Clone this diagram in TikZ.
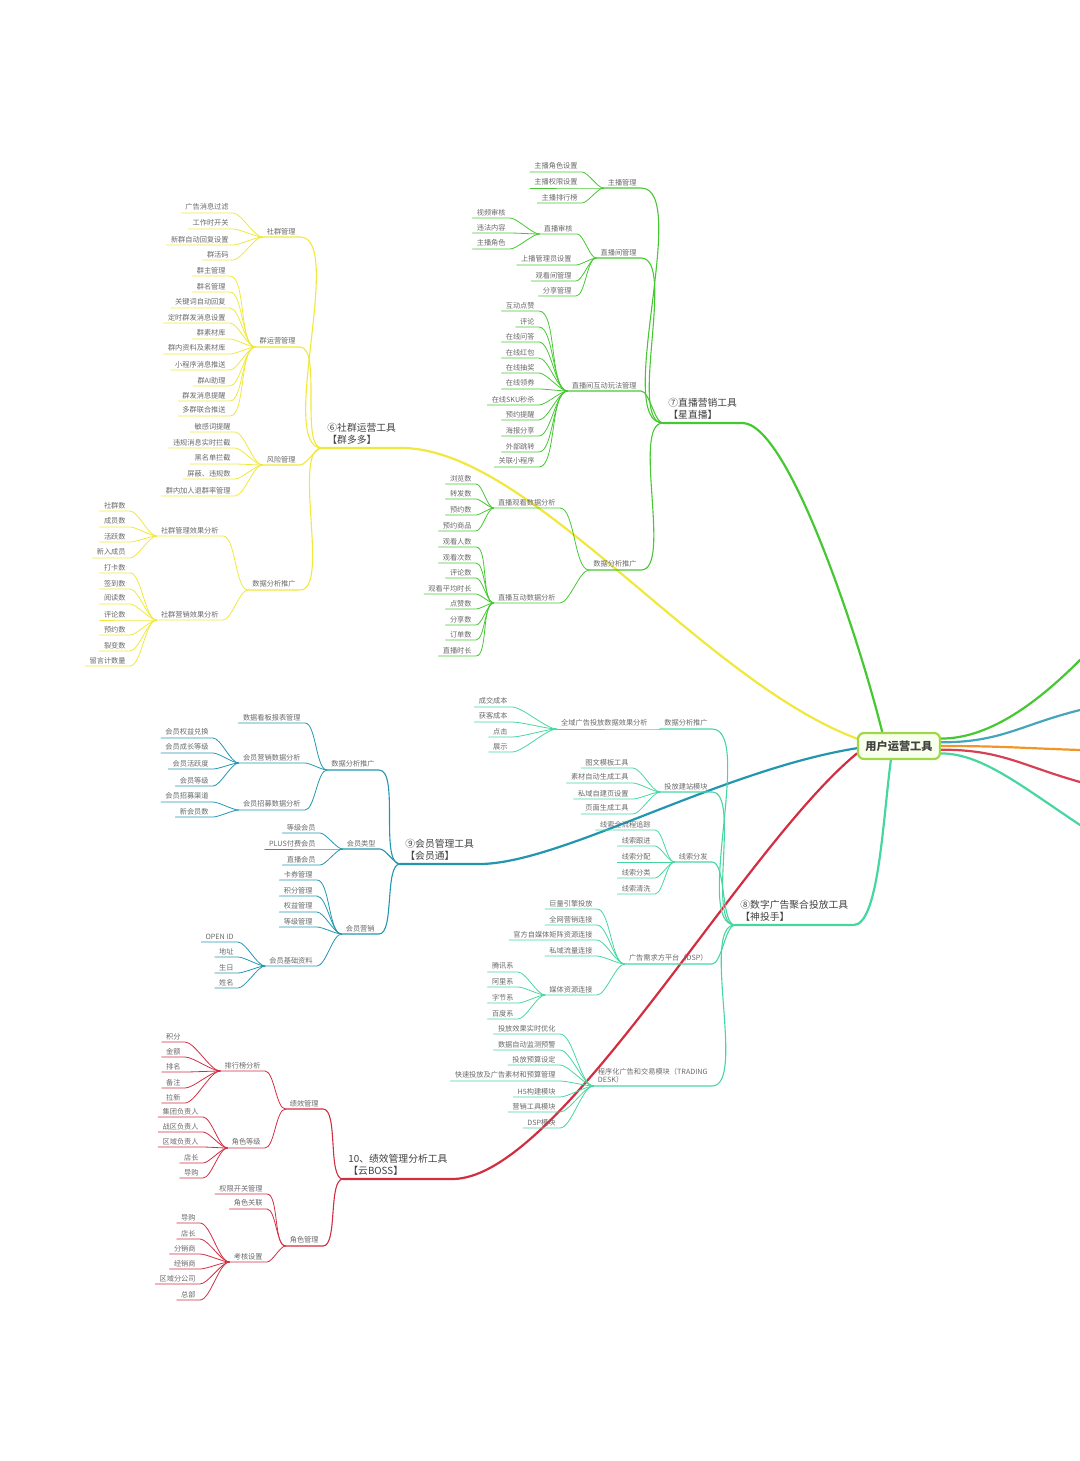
\documentclass[tikz,border=0pt]{standalone}
\usepackage{fontspec}
\setmainfont{Noto Sans CJK SC}
\usetikzlibrary{backgrounds}
\definecolor{rootline}{RGB}{160,215,70}
\definecolor{rootfill}{RGB}{248,255,236}
\definecolor{qunyellow}{RGB}{240,232,60}
\definecolor{zbgreen}{RGB}{70,200,50}
\definecolor{hyteal}{RGB}{35,150,175}
\definecolor{ggmint}{RGB}{70,215,160}
\definecolor{jxred}{RGB}{210,45,65}
\definecolor{sideorange}{RGB}{240,150,40}
\definecolor{inkdark}{RGB}{65,65,65}
\definecolor{inkgray}{RGB}{105,105,105}

\begin{document}
\begin{tikzpicture}[x=0.5pt, y=-0.5pt,
    rootbox/.style={rectangle, draw=rootline, line width=1.1pt, rounded corners=3pt,
                    fill=rootfill, text=inkdark, font=\fontsize{5.6}{6}\selectfont\bfseries,
                    minimum width=41pt, minimum height=13pt, inner sep=2pt},
    branchtitle/.style={anchor=south west, align=left, inner xsep=2.5pt, inner ysep=1.5pt,
                    text=inkdark, font=\fontsize{4.9}{6.2}\selectfont},
    leaf/.style={anchor=south east, inner xsep=2pt, inner ysep=1pt,
                 text=inkgray, font=\fontsize{3.6}{4.4}\selectfont},
    trunk/.style={line width=1.1pt, line cap=round},
    twig/.style={line width=0.55pt, line cap=round},
    sprig/.style={line width=0.4pt, line cap=round},
    fan/.style={out=180, in=0, looseness=0.55}
]
    \useasboundingbox (0,0) rectangle (1080,1461);

    % root
    \node[rootbox] (root) at (899,746) {用户运营工具};
    \coordinate (e1) at (1080,660);
    \coordinate (e2) at (1080,710);
    \coordinate (e3) at (1080,750);
    \coordinate (e4) at (1080,782);
    \coordinate (e5) at (1080,825);

    % 7 live streaming
    \node[branchtitle] (b7) at (663,423) {⑦直播营销工具\\【星直播】};
    \node[leaf] (z1) at (641,188) {主播管理};
    \node[leaf] (z2) at (641,258) {直播间管理};
    \node[leaf] (z3) at (641,391) {直播间互动玩法管理};
    \node[leaf] (z4) at (641,570) {数据分析推广};
    \node[leaf] (z11) at (582,172) {主播角色设置};
    \node[leaf] (z12) at (582,188) {主播权限设置};
    \node[leaf] (z13) at (582,203) {主播排行榜};
    \node[leaf] (z21) at (577,234) {直播审核};
    \node[leaf] (z22) at (576,265) {上播管理员设置};
    \node[leaf] (z23) at (576,281) {观看间管理};
    \node[leaf] (z24) at (576,296) {分享管理};
    \node[leaf] (z211) at (510,218) {视频审核};
    \node[leaf] (z212) at (510,233) {违法内容};
    \node[leaf] (z213) at (510,249) {主播角色};
    \node[leaf] (z31) at (539,311) {互动点赞};
    \node[leaf] (z32) at (539,327) {评论};
    \node[leaf] (z33) at (539,342) {在线问答};
    \node[leaf] (z34) at (539,358) {在线红包};
    \node[leaf] (z35) at (539,373) {在线抽奖};
    \node[leaf] (z36) at (539,389) {在线领券};
    \node[leaf] (z37) at (539,405) {在线SKU秒杀};
    \node[leaf] (z38) at (539,420) {预约提醒};
    \node[leaf] (z39) at (539,436) {海报分享};
    \node[leaf] (z310) at (539,452) {外部跳转};
    \node[leaf] (z311) at (539,467) {关联小程序};
    \node[leaf] (z41) at (560,508) {直播观看数据分析};
    \node[leaf] (z42) at (560,603) {直播互动数据分析};
    \node[leaf] (z411) at (476,484) {浏览数};
    \node[leaf] (z412) at (476,499) {转发数};
    \node[leaf] (z413) at (476,515) {预约数};
    \node[leaf] (z414) at (476,531) {预约商品};
    \node[leaf] (z421) at (476,547) {观看人数};
    \node[leaf] (z422) at (476,563) {观看次数};
    \node[leaf] (z423) at (476,578) {评论数};
    \node[leaf] (z424) at (476,594) {观看平均时长};
    \node[leaf] (z425) at (476,609) {点赞数};
    \node[leaf] (z426) at (476,625) {分享数};
    \node[leaf] (z427) at (476,640) {订单数};
    \node[leaf] (z428) at (476,656) {直播时长};

    % 6 community
    \node[branchtitle] (b6) at (322,448) {⑥社群运营工具\\【群多多】};
    \node[leaf] (q1) at (300,237) {社群管理};
    \node[leaf] (q2) at (300,347) {群运营管理};
    \node[leaf] (q3) at (300,465) {风险管理};
    \node[leaf] (q4) at (300,590) {数据分析推广};
    \node[leaf] (q11) at (233,213) {广告消息过滤};
    \node[leaf] (q12) at (233,229) {工作时开关};
    \node[leaf] (q13) at (233,245) {新群自动回复设置};
    \node[leaf] (q14) at (233,260) {群活码};
    \node[leaf] (q21) at (230,276) {群主管理};
    \node[leaf] (q22) at (230,292) {群名管理};
    \node[leaf] (q23) at (230,308) {关键词自动回复};
    \node[leaf] (q24) at (230,323) {定时群发消息设置};
    \node[leaf] (q25) at (230,339) {群素材库};
    \node[leaf] (q26) at (230,354) {群内资料及素材库};
    \node[leaf] (q27) at (230,370) {小程序消息推送};
    \node[leaf] (q28) at (230,386) {群AI助理};
    \node[leaf] (q29) at (230,401) {群发消息提醒};
    \node[leaf] (q210) at (230,416) {多群联合推送};
    \node[leaf] (q31) at (235,432) {敏感词提醒};
    \node[leaf] (q32) at (235,448) {违规消息实时拦截};
    \node[leaf] (q33) at (235,464) {黑名单拦截};
    \node[leaf] (q34) at (235,479) {屏蔽、违规数};
    \node[leaf] (q35) at (235,496) {群内加人退群率管理};
    \node[leaf] (q41) at (223,536) {社群管理效果分析};
    \node[leaf] (q42) at (223,620) {社群营销效果分析};
    \node[leaf] (q411) at (130,511) {社群数};
    \node[leaf] (q412) at (130,527) {成员数};
    \node[leaf] (q413) at (130,542) {活跃数};
    \node[leaf] (q414) at (130,558) {新入成员};
    \node[leaf] (q421) at (130,573) {打卡数};
    \node[leaf] (q422) at (130,589) {签到数};
    \node[leaf] (q423) at (130,604) {阅读数};
    \node[leaf] (q424) at (130,620) {评论数};
    \node[leaf] (q425) at (130,635) {预约数};
    \node[leaf] (q426) at (130,651) {裂变数};
    \node[leaf] (q427) at (130,666) {留言计数量};

    % 9 membership
    \node[branchtitle] (b9) at (400,864) {⑨会员管理工具\\【会员通】};
    \node[leaf] (h1) at (379,770) {数据分析推广};
    \node[leaf] (h2) at (380,849) {会员类型};
    \node[leaf] (h3) at (379,934) {会员营销};
    \node[leaf] (h11) at (305,723) {数据看板报表管理};
    \node[leaf] (h12) at (305,763) {会员营销数据分析};
    \node[leaf] (h13) at (305,810) {会员招募数据分析};
    \node[leaf] (h121) at (213,738) {会员权益兑换};
    \node[leaf] (h122) at (213,753) {会员成长等级};
    \node[leaf] (h123) at (213,769) {会员活跃度};
    \node[leaf] (h124) at (213,786) {会员等级};
    \node[leaf] (h131) at (213,802) {会员招募渠道};
    \node[leaf] (h132) at (213,817) {新会员数};
    \node[leaf] (h21) at (320,833) {等级会员};
    \node[leaf] (h22) at (320,849) {PLUS付费会员};
    \node[leaf] (h23) at (320,865) {直播会员};
    \node[leaf] (h31) at (317,880) {卡券管理};
    \node[leaf] (h32) at (317,896) {积分管理};
    \node[leaf] (h33) at (317,912) {权益管理};
    \node[leaf] (h34) at (317,927) {等级管理};
    \node[leaf] (h35) at (317,966) {会员基础资料};
    \node[leaf] (h351) at (238,942) {OPEN ID};
    \node[leaf] (h352) at (238,957) {地址};
    \node[leaf] (h353) at (238,973) {生日};
    \node[leaf] (h354) at (238,988) {姓名};

    % 8 digital ads
    \node[branchtitle] (b8) at (735,925) {⑧数字广告聚合投放工具\\【神投手】};
    \node[leaf] (s1) at (712,729) {数据分析推广};
    \node[leaf] (s2) at (712,792) {投放建站模块};
    \node[leaf] (s3) at (712,862) {线索分发};
    \node[leaf] (s4) at (712,964) {广告需求方平台（DSP）};
    \node[leaf, align=left] (s5) at (712,1086) {程序化广告和交易模块（TRADING\\DESK）};
    \node[leaf] (s11) at (652,729) {全域广告投放数据效果分析};
    \node[leaf] (s111) at (512,707) {成交成本};
    \node[leaf] (s112) at (512,722) {获客成本};
    \node[leaf] (s113) at (512,737) {点击};
    \node[leaf] (s114) at (512,752) {展示};
    \node[leaf] (s21) at (633,768) {图文模板工具};
    \node[leaf] (s22) at (633,783) {素材自动生成工具};
    \node[leaf] (s23) at (633,799) {私域自建页设置};
    \node[leaf] (s24) at (633,814) {页面生成工具};
    \node[leaf] (s31) at (655,830) {线索全流程追踪};
    \node[leaf] (s32) at (655,846) {线索跟进};
    \node[leaf] (s33) at (655,862) {线索分配};
    \node[leaf] (s34) at (655,878) {线索分类};
    \node[leaf] (s35) at (655,894) {线索清洗};
    \node[leaf] (s41) at (597,909) {巨量引擎投放};
    \node[leaf] (s42) at (597,925) {全网营销连接};
    \node[leaf] (s43) at (597,940) {官方自媒体矩阵资源连接};
    \node[leaf] (s44) at (597,956) {私域流量连接};
    \node[leaf] (s45) at (597,995) {媒体资源连接};
    \node[leaf] (s451) at (518,972) {腾讯系};
    \node[leaf] (s452) at (518,987) {阿里系};
    \node[leaf] (s453) at (518,1003) {字节系};
    \node[leaf] (s454) at (518,1019) {百度系};
    \node[leaf] (s51) at (560,1034) {投放效果实时优化};
    \node[leaf] (s52) at (560,1050) {数据自动监测预警};
    \node[leaf] (s53) at (560,1065) {投放预算设定};
    \node[leaf] (s54) at (560,1081) {快速投放及广告素材和预算管理};
    \node[leaf] (s55) at (560,1097) {H5构建模块};
    \node[leaf] (s56) at (560,1112) {营销工具模块};
    \node[leaf] (s57) at (560,1128) {DSP模块};

    % 10 performance
    \node[branchtitle] (b10) at (343,1179) {10、绩效管理分析工具\\【云BOSS】};
    \node[leaf] (j1) at (323,1109) {绩效管理};
    \node[leaf] (j2) at (323,1246) {角色管理};
    \node[leaf] (j11) at (265,1071) {排行榜分析};
    \node[leaf] (j12) at (265,1148) {角色等级};
    \node[leaf] (j111) at (185,1042) {积分};
    \node[leaf] (j112) at (185,1057) {金额};
    \node[leaf] (j113) at (185,1072) {排名};
    \node[leaf] (j114) at (185,1088) {备注};
    \node[leaf] (j115) at (185,1103) {拉新};
    \node[leaf] (j121) at (203,1117) {集团负责人};
    \node[leaf] (j122) at (203,1132) {战区负责人};
    \node[leaf] (j123) at (203,1147) {区域负责人};
    \node[leaf] (j124) at (203,1163) {店长};
    \node[leaf] (j125) at (203,1178) {导购};
    \node[leaf] (j21) at (267,1194) {权限开关管理};
    \node[leaf] (j22) at (267,1209) {角色关联};
    \node[leaf] (j23) at (267,1262) {考核设置};
    \node[leaf] (j231) at (200,1223) {导购};
    \node[leaf] (j232) at (200,1239) {店长};
    \node[leaf] (j233) at (200,1254) {分销商};
    \node[leaf] (j234) at (200,1269) {经销商};
    \node[leaf] (j235) at (200,1284) {区域分公司};
    \node[leaf] (j236) at (200,1300) {总部};

    % trunks from the root, kept behind the root box
    \begin{scope}[on background layer]
    \draw[trunk, zbgreen] (b7.south west) -- (b7.south east) .. controls +(45,0) and +(-25,-100) .. (root.140);
    \draw[trunk, qunyellow] (b6.south west) -- (b6.south east) .. controls (530,448) and (700,680) .. (root.170);
    \draw[trunk, hyteal] (b9.south west) -- (b9.south east) .. controls (560,864) and (720,770) .. (root.183);
    \draw[trunk, jxred] (b10.south west) -- (b10.south east) .. controls (560,1178) and (740,850) .. (root.190);
    \draw[trunk, ggmint] (b8.south west) -- (b8.south east) .. controls +(25,0) and +(-8,60) .. (root.240);
    \draw[trunk, zbgreen] (root.10) .. controls +(50,0) and (1040,700) .. (e1);
    \draw[trunk, hyteal!85] (root.5) .. controls +(60,0) and (1020,725) .. (e2);
    \draw[trunk, sideorange] (root.0) .. controls +(60,0) and (1020,748) .. (e3);
    \draw[trunk, jxred!90] (root.-5) .. controls +(60,0) and (1020,765) .. (e4);
    \draw[trunk, ggmint] (root.-10) .. controls +(40,0) and (1020,785) .. (e5);
    \end{scope}

    % 7
    \foreach \n in {z1,z2,z3,z4} \draw[twig, zbgreen] (b7.south west) to[fan] (\n.south east) -- (\n.south west);
    \foreach \n in {z11,z12,z13} \draw[sprig, zbgreen] (z1.south west) to[fan] (\n.south east) -- (\n.south west);
    \foreach \n in {z21,z22,z23,z24} \draw[sprig, zbgreen] (z2.south west) to[fan] (\n.south east) -- (\n.south west);
    \foreach \n in {z211,z212,z213} \draw[sprig, zbgreen] (z21.south west) to[fan] (\n.south east) -- (\n.south west);
    \foreach \n in {z31,z32,z33,z34,z35,z36,z37,z38,z39,z310,z311} \draw[sprig, zbgreen] (z3.south west) to[fan] (\n.south east) -- (\n.south west);
    \foreach \n in {z41,z42} \draw[sprig, zbgreen] (z4.south west) to[fan] (\n.south east) -- (\n.south west);
    \foreach \n in {z411,z412,z413,z414} \draw[sprig, zbgreen] (z41.south west) to[fan] (\n.south east) -- (\n.south west);
    \foreach \n in {z421,z422,z423,z424,z425,z426,z427,z428} \draw[sprig, zbgreen] (z42.south west) to[fan] (\n.south east) -- (\n.south west);

    % 6
    \foreach \n in {q1,q2,q3,q4} \draw[twig, qunyellow] (b6.south west) to[fan] (\n.south east) -- (\n.south west);
    \foreach \n in {q11,q12,q13,q14} \draw[sprig, qunyellow] (q1.south west) to[fan] (\n.south east) -- (\n.south west);
    \foreach \n in {q21,q22,q23,q24,q25,q26,q27,q28,q29,q210} \draw[sprig, qunyellow] (q2.south west) to[fan] (\n.south east) -- (\n.south west);
    \foreach \n in {q31,q32,q33,q34,q35} \draw[sprig, qunyellow] (q3.south west) to[fan] (\n.south east) -- (\n.south west);
    \foreach \n in {q41,q42} \draw[sprig, qunyellow] (q4.south west) to[fan] (\n.south east) -- (\n.south west);
    \foreach \n in {q411,q412,q413,q414} \draw[sprig, qunyellow] (q41.south west) to[fan] (\n.south east) -- (\n.south west);
    \foreach \n in {q421,q422,q423,q424,q425,q426,q427} \draw[sprig, qunyellow] (q42.south west) to[fan] (\n.south east) -- (\n.south west);

    % 9
    \foreach \n in {h1,h2,h3} \draw[twig, hyteal] (b9.south west) to[fan] (\n.south east) -- (\n.south west);
    \foreach \n in {h11,h12,h13} \draw[sprig, hyteal] (h1.south west) to[fan] (\n.south east) -- (\n.south west);
    \foreach \n in {h121,h122,h123,h124} \draw[sprig, hyteal] (h12.south west) to[fan] (\n.south east) -- (\n.south west);
    \foreach \n in {h131,h132} \draw[sprig, hyteal] (h13.south west) to[fan] (\n.south east) -- (\n.south west);
    \foreach \n in {h21,h22,h23} \draw[sprig, hyteal] (h2.south west) to[fan] (\n.south east) -- (\n.south west);
    \foreach \n in {h31,h32,h33,h34,h35} \draw[sprig, hyteal] (h3.south west) to[fan] (\n.south east) -- (\n.south west);
    \foreach \n in {h351,h352,h353,h354} \draw[sprig, hyteal] (h35.south west) to[fan] (\n.south east) -- (\n.south west);

    % 8
    \foreach \n in {s1,s2,s3,s4,s5} \draw[twig, ggmint] (b8.south west) to[fan] (\n.south east) -- (\n.south west);
    \foreach \n in {s11} \draw[sprig, ggmint] (s1.south west) to[fan] (\n.south east) -- (\n.south west);
    \foreach \n in {s111,s112,s113,s114} \draw[sprig, ggmint] (s11.south west) to[fan] (\n.south east) -- (\n.south west);
    \foreach \n in {s21,s22,s23,s24} \draw[sprig, ggmint] (s2.south west) to[fan] (\n.south east) -- (\n.south west);
    \foreach \n in {s31,s32,s33,s34,s35} \draw[sprig, ggmint] (s3.south west) to[fan] (\n.south east) -- (\n.south west);
    \foreach \n in {s41,s42,s43,s44,s45} \draw[sprig, ggmint] (s4.south west) to[fan] (\n.south east) -- (\n.south west);
    \foreach \n in {s451,s452,s453,s454} \draw[sprig, ggmint] (s45.south west) to[fan] (\n.south east) -- (\n.south west);
    \foreach \n in {s51,s52,s53,s54,s55,s56,s57} \draw[sprig, ggmint] (s5.south west) to[fan] (\n.south east) -- (\n.south west);

    % 10
    \foreach \n in {j1,j2} \draw[twig, jxred] (b10.south west) to[fan] (\n.south east) -- (\n.south west);
    \foreach \n in {j11,j12} \draw[sprig, jxred] (j1.south west) to[fan] (\n.south east) -- (\n.south west);
    \foreach \n in {j111,j112,j113,j114,j115} \draw[sprig, jxred] (j11.south west) to[fan] (\n.south east) -- (\n.south west);
    \foreach \n in {j121,j122,j123,j124,j125} \draw[sprig, jxred] (j12.south west) to[fan] (\n.south east) -- (\n.south west);
    \foreach \n in {j21,j22,j23} \draw[sprig, jxred] (j2.south west) to[fan] (\n.south east) -- (\n.south west);
    \foreach \n in {j231,j232,j233,j234,j235,j236} \draw[sprig, jxred] (j23.south west) to[fan] (\n.south east) -- (\n.south west);
\end{tikzpicture}
\end{document}
